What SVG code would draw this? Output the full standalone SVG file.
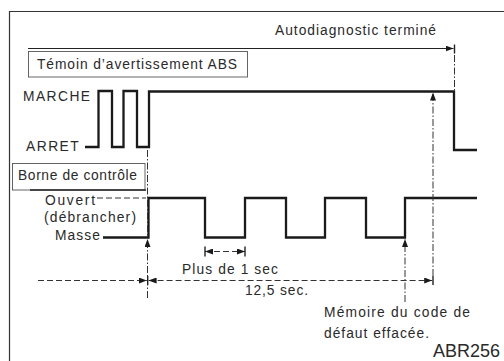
<svg xmlns="http://www.w3.org/2000/svg" width="504" height="361" viewBox="0 0 504 361">
<style>
text{font-family:"Liberation Sans",Arial,Helvetica,sans-serif;font-size:13.8px;fill:#2a2a2a}
.frame{fill:none;stroke:#333;stroke-width:1.2}
.box{fill:#fff;stroke:#555;stroke-width:0.9}
.wave{fill:none;stroke:#1a1a1a;stroke-width:2.3;stroke-linejoin:miter}
.thin{fill:none;stroke:#222;stroke-width:1}
.dash{fill:none;stroke:#333;stroke-width:1;stroke-dasharray:6 3}
.dd{fill:none;stroke:#333;stroke-width:1;stroke-dasharray:7 2 1.5 2}
.tick{stroke:#222;stroke-width:1.4}
</style>
<defs>
<marker id="arr" viewBox="0 0 8 6" refX="8" refY="3" markerWidth="8" markerHeight="6" markerUnits="userSpaceOnUse" orient="auto-start-reverse">
<path d="M0,0 L8,3 L0,6 z" fill="#1a1a1a"/>
</marker>
</defs>
<rect width="504" height="361" fill="#fff"/>
<path class="frame" d="M9.5,361 V11.5 H504"/>

<g id="title">
<text x="275" y="35" textLength="161" lengthAdjust="spacing">Autodiagnostic terminé</text>
</g>

<g id="abs-label">
<rect class="box" x="28.5" y="51.5" width="219" height="25.5"/>
<text x="37" y="69" textLength="200" lengthAdjust="spacing">Témoin d’avertissement ABS</text>
</g>

<g id="abs-levels">
<text x="23" y="100.5" textLength="67" lengthAdjust="spacing">MARCHE</text>
<text x="26" y="150.5" textLength="52.7" lengthAdjust="spacing">ARRET</text>
</g>

<g id="abs-wave">
<path class="wave" d="M85,147 H98.5 V91 H112 V147 H123.5 V91 H137 V147 H149 V91.5 H454 V150 H477"/>
</g>

<g id="borne-label">
<rect class="box" x="12.5" y="163.5" width="132.5" height="26.5"/>
<line x1="30" y1="190" x2="146" y2="190" stroke="#222" stroke-width="1.6"/>
<text x="18" y="179.5" textLength="119" lengthAdjust="spacing">Borne de contrôle</text>
</g>

<g id="borne-levels">
<text x="45" y="205" textLength="50" lengthAdjust="spacing">Ouvert</text>
<text x="44" y="222" textLength="92" lengthAdjust="spacing">(débrancher)</text>
<text x="55" y="239.5" textLength="45" lengthAdjust="spacing">Masse</text>
</g>

<g id="borne-wave">
<path class="wave" d="M103,237.5 H148.5 V198 H205 V237.5 H245 V198 H286 V237.5 H325 V198 H366 V237.5 H405 V198 H477"/>
</g>

<g id="connectors">
<line class="thin" x1="28" y1="48.5" x2="453.5" y2="48.5" marker-end="url(#arr)"/>
<line class="tick" x1="454.5" y1="44.5" x2="454.5" y2="53.5"/>
<line class="dd" x1="454.5" y1="55" x2="454.5" y2="90"/>
<line class="dd" x1="147.5" y1="150" x2="147.5" y2="236"/>
<line class="dd" x1="147.5" y1="298" x2="147.5" y2="239" marker-end="url(#arr)"/>
<line class="dash" x1="97" y1="198" x2="146" y2="198"/>
<line class="dd" x1="405" y1="302" x2="405" y2="239" marker-end="url(#arr)"/>
<line class="dd" x1="433" y1="276" x2="433" y2="92.5" marker-end="url(#arr)"/>
<line class="dash" x1="205" y1="251.5" x2="245" y2="251.5" marker-start="url(#arr)" marker-end="url(#arr)"/>
<line class="tick" x1="205" y1="246.5" x2="205" y2="256.5"/>
<line class="tick" x1="245" y1="246.5" x2="245" y2="256.5"/>
<line class="dash" x1="38" y1="280.5" x2="146.8" y2="280.5" marker-end="url(#arr)"/>
<line class="dash" x1="148.6" y1="280.5" x2="432.2" y2="280.5" marker-start="url(#arr)" marker-end="url(#arr)"/>
<line class="tick" x1="147.7" y1="276" x2="147.7" y2="285"/>
<line class="tick" x1="433" y1="276" x2="433" y2="285"/>
</g>

<g id="labels">
<text x="182" y="273.5" textLength="96" lengthAdjust="spacing">Plus de 1 sec</text>
<text x="245" y="295" textLength="63" lengthAdjust="spacing">12,5 sec.</text>
<text x="324" y="317" textLength="146" lengthAdjust="spacing">Mémoire du code de</text>
<text x="324" y="337.5" textLength="105" lengthAdjust="spacing">défaut effacée.</text>
<text x="433" y="357" textLength="67" lengthAdjust="spacing" style="font-size:18px">ABR256</text>
</g>
</svg>
